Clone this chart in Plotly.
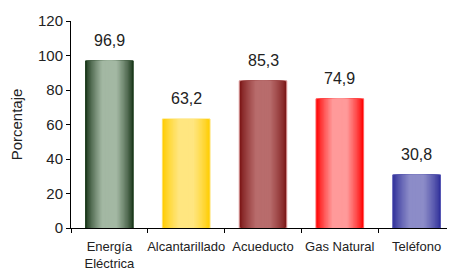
import plotly.graph_objects as go

categories = ["Energía<br>Eléctrica", "Alcantarillado", "Acueducto", "Gas Natural", "Teléfono"]
values = [96.9, 63.2, 85.3, 74.9, 30.8]
y_ticks = [0, 20, 40, 60, 80, 100, 120]

edge_colors = [(30, 58, 30), (255, 204, 0), (122, 20, 20), (255, 0, 0), (48, 48, 154)]
center_colors = [(163, 184, 163), (255, 230, 128), (184, 108, 108), (255, 154, 154), (140, 140, 200)]
outline_colors = ["#1a3a1a", "#ffe066", "#e0a0a0", "#ff6060", "#5050b0"]

N = 18
bar_w = 0.62

def mix(a, b, t):
    return "rgb(%d,%d,%d)" % tuple(round(a[i] + (b[i] - a[i]) * t) for i in range(3))

fig = go.Figure()
for k in range(N):
    t = k / (N - 1)
    w = bar_w * (1 - k / N)
    cols = [mix(e, c, min(1, t * 1.4) ** 0.8) for e, c in zip(edge_colors, center_colors)]
    fig.add_trace(go.Bar(
        x=categories, y=values, width=w,
        marker=dict(color=cols,
                    line=dict(color=outline_colors if k == 0 else cols, width=1 if k == 0 else 0)),
        hoverinfo="skip" if k else "x+y",
        showlegend=False,
    ))

for c, v in zip(categories, values):
    fig.add_annotation(
        x=c, y=v, text=f"{v:.1f}".replace(".", ","),
        showarrow=False, yanchor="bottom", yshift=10,
        font=dict(family="Liberation Sans, Arial", size=16, color="#222"),
    )

fig.update_layout(
    barmode="overlay",
    width=447, height=265,
    margin=dict(l=63, r=0, t=13, b=45),
    paper_bgcolor="white", plot_bgcolor="white",
    font=dict(family="Liberation Sans, Arial", size=14, color="#222"),
    separators=",.",
)
fig.update_xaxes(
    showline=True, linecolor="black", linewidth=1,
    ticks="outside", ticklen=4, tickcolor="black", tickson="boundaries",
    tickfont=dict(size=13), tickangle=0, automargin=False, ticklabelstandoff=6,
    showgrid=False,
)
fig.update_yaxes(
    range=[0, 120], tickvals=y_ticks,
    showline=True, linecolor="black", linewidth=1,
    ticks="outside", ticklen=4, tickcolor="black",
    showgrid=False, zeroline=False, automargin=False,
    tickfont=dict(size=15),
    title=dict(text="Porcentaje", font=dict(size=15), standoff=18),
)

fig.write_html("out.html")
